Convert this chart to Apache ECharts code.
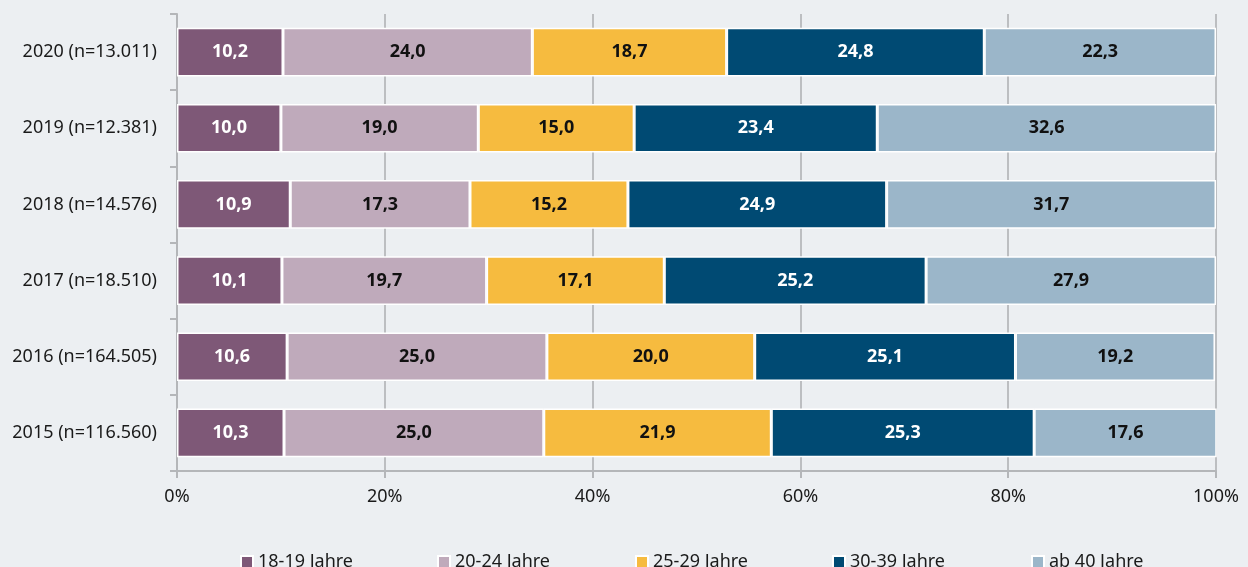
<!DOCTYPE html>
<html>
<head>
<meta charset="utf-8">
<script src="https://cdn.jsdelivr.net/npm/echarts@6/dist/echarts.min.js"></script>
<style>
html,body{margin:0;padding:0;background:#eceff2;}
#c{width:1248px;height:567px;}
</style>
</head>
<body>
<div id="c"></div>
<script>
const categories = ['2020 (n=13.011)', '2019 (n=12.381)', '2018 (n=14.576)', '2017 (n=18.510)', '2016 (n=164.505)', '2015 (n=116.560)'];
const seriesNames = ['18-19 Jahre', '20-24 Jahre', '25-29 Jahre', '30-39 Jahre', 'ab 40 Jahre'];
const s1819 = [10.2, 10.0, 10.9, 10.1, 10.6, 10.3];
const s2024 = [24.0, 19.0, 17.3, 19.7, 25.0, 25.0];
const s2529 = [18.7, 15.0, 15.2, 17.1, 20.0, 21.9];
const s3039 = [24.8, 23.4, 24.9, 25.2, 25.1, 25.3];
const s40 = [22.3, 32.6, 31.7, 27.9, 19.2, 17.6];
const xTicks = [0, 20, 40, 60, 80, 100];

const colors = ['#7e5877', '#bfaabb', '#f6bb3f', '#004a73', '#9bb6c9'];
const labelColors = ['#ffffff', '#111111', '#111111', '#ffffff', '#111111'];
const legendLeft = [240, 437, 635, 832, 1031];
const allData = [s1819, s2024, s2529, s3039, s40];
const FONT = '"Noto Sans", sans-serif';

const chart = echarts.init(document.getElementById('c'));
chart.setOption({
  backgroundColor: '#eceff2',
  animation: false,
  grid: { left: 177, right: 32, top: 14, bottom: 96, containLabel: false },
  xAxis: {
    type: 'value', min: 0, max: 100, interval: 20,
    axisLine: { show: true, lineStyle: { color: '#b4b6b9', width: 2 } },
    axisTick: { show: true, length: 7, lineStyle: { color: '#b4b6b9', width: 2 } },
    splitLine: { show: true, lineStyle: { color: '#bcbec1', width: 2 } },
    axisLabel: { margin: 17, color: '#1a1a1a', fontSize: 18, fontFamily: FONT,
      formatter: v => xTicks.includes(v) ? v + '%' : '' }
  },
  yAxis: {
    type: 'category', data: categories, inverse: true,
    axisLine: { show: true, lineStyle: { color: '#b4b6b9', width: 2 } },
    axisTick: { show: true, length: 7, lineStyle: { color: '#b4b6b9', width: 2 } },
    axisLabel: { margin: 20, color: '#1a1a1a', fontSize: 18, fontFamily: FONT }
  },
  legend: seriesNames.map((n, i) => ({
    data: [n], left: legendLeft[i], top: 553, itemWidth: 12, itemHeight: 12, itemGap: 0,
    icon: 'rect', padding: 0,
    textStyle: { fontSize: 18, color: '#1a1a1a', fontFamily: FONT }
  })),
  series: seriesNames.map((n, i) => ({
    name: n, type: 'bar', stack: 'total', barWidth: '64%',
    data: allData[i],
    itemStyle: { color: colors[i], borderColor: '#ffffff', borderWidth: 1.5 },
    label: {
      show: true, position: 'inside', color: labelColors[i], fontSize: 18, fontWeight: 'bold',
      fontFamily: FONT,
      formatter: p => p.value.toFixed(1).replace('.', ',')
    }
  }))
});
</script>
</body>
</html>
